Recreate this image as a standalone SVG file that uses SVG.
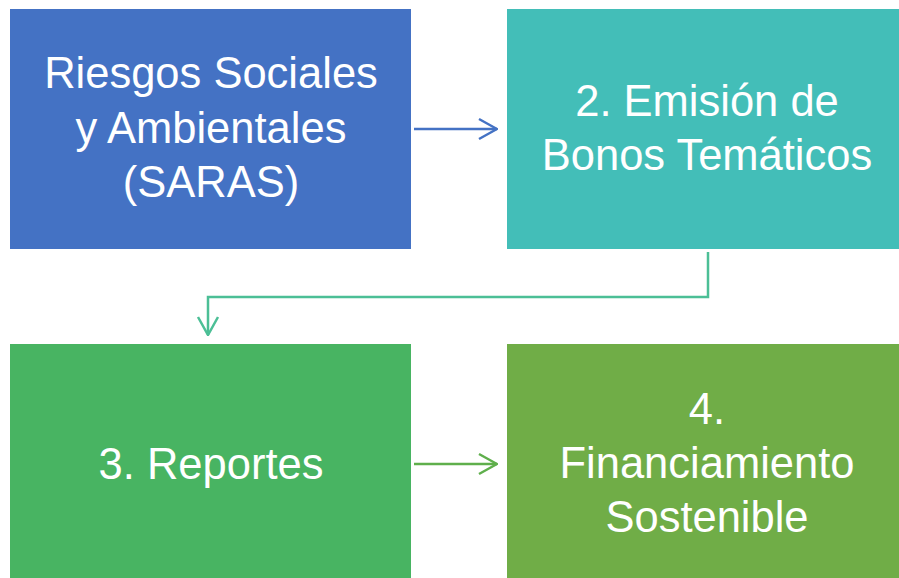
<svg xmlns="http://www.w3.org/2000/svg" width="899" height="578" viewBox="0 0 899 578">
<defs>
<style>
.lbl{font-family:"Liberation Sans",Arial,sans-serif;font-size:43.5px;fill:#ffffff;text-anchor:middle}
.con{fill:none;stroke-width:2.5}
</style>
<marker id="ab" viewBox="0 0 20 24" refX="19" refY="12" markerWidth="20" markerHeight="24" markerUnits="userSpaceOnUse" orient="auto"><path d="M1,2 L19,12 L1,22" fill="none" stroke="#4472C4" stroke-width="2.5"/></marker>
<marker id="ag" viewBox="0 0 20 24" refX="19" refY="12" markerWidth="20" markerHeight="24" markerUnits="userSpaceOnUse" orient="auto"><path d="M1,2 L19,12 L1,22" fill="none" stroke="#4CBF96" stroke-width="2.5"/></marker>
<marker id="ao" viewBox="0 0 20 24" refX="19" refY="12" markerWidth="20" markerHeight="24" markerUnits="userSpaceOnUse" orient="auto"><path d="M1,2 L19,12 L1,22" fill="none" stroke="#5FAF4C" stroke-width="2.5"/></marker>
</defs>
<rect width="899" height="578" fill="#ffffff"/>
<g id="node1">
<rect x="10" y="9" width="401" height="240" fill="#4472C4"/>
<text class="lbl" x="211" y="88">Riesgos Sociales</text>
<text class="lbl" x="211" y="143">y Ambientales</text>
<text class="lbl" x="211" y="197">(SARAS)</text>
</g>
<g id="node2">
<rect x="507" y="9" width="392" height="240" fill="#43BEB8"/>
<text class="lbl" x="707" y="116">2. Emisión de</text>
<text class="lbl" x="707" y="170">Bonos Temáticos</text>
</g>
<g id="node3">
<rect x="10" y="344" width="401" height="234" fill="#48B462"/>
<text class="lbl" x="211" y="479">3. Reportes</text>
</g>
<g id="node4">
<rect x="507" y="344" width="392" height="234" fill="#70AD47"/>
<text class="lbl" x="707" y="424">4.</text>
<text class="lbl" x="707" y="478">Financiamiento</text>
<text class="lbl" x="707" y="532">Sostenible</text>
</g>
<g id="connectors">
<path class="con" d="M414,129 L497,129" stroke="#4472C4" marker-end="url(#ab)"/>
<path class="con" d="M708,252 L708,297 L208,297 L208,335" stroke="#4CBF96" marker-end="url(#ag)"/>
<path class="con" d="M414,464 L497,464" stroke="#5FAF4C" marker-end="url(#ao)"/>
</g>
</svg>
